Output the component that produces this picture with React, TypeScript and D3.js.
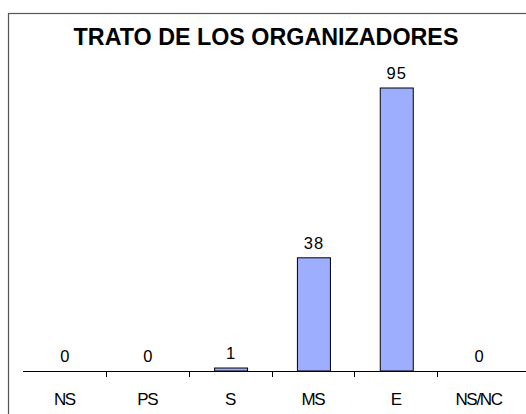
import React, { useEffect, useRef } from 'react';
import * as d3 from 'd3';

const title = 'TRATO DE LOS ORGANIZADORES';
const categories = ['NS', 'PS', 'S', 'MS', 'E', 'NS/NC'];
const values = [0, 0, 1, 38, 95, 0];

const BarChart = () => {
  const svgRef = useRef<SVGSVGElement>(null);

  const _width = 526, _height = 414;
  const axisY = 371;

  const renderChart = () => {
    const svg = d3.select(svgRef.current);

    // outer frame, runs off the right and bottom edges
    svg.append('rect')
      .attr('x', 8.5).attr('y', 13.5)
      .attr('width', 600).attr('height', 500)
      .attr('fill', 'white')
      .attr('stroke', '#555').attr('stroke-width', 1.2);

    svg.append('text')
      .attr('x', 266).attr('y', 45)
      .attr('text-anchor', 'middle')
      .attr('font-family', 'Liberation Sans, Arial, sans-serif')
      .attr('font-weight', 'bold')
      .attr('font-size', 23.3)
      .text(title);

    const x = d3.scaleBand().domain(categories).range([23, 520]).paddingInner(0).paddingOuter(0);
    const y = d3.scaleLinear().domain([0, 95]).range([axisY, 88]);

    const barW = 33;

    svg.selectAll('.bar')
      .data(values)
      .enter()
      .append('rect')
      .attr('class', 'bar')
      .attr('x', (d, i) => x(categories[i])! + x.bandwidth() / 2 - barW / 2 + 1)
      .attr('y', d => y(d))
      .attr('width', barW)
      .attr('height', d => axisY - y(d))
      .attr('fill', d => d > 0 ? '#9daeff' : 'none')
      .attr('stroke', d => d > 0 ? '#000' : 'none')
      .attr('stroke-width', 1);

    svg.selectAll('.val')
      .data(values)
      .enter()
      .append('text')
      .attr('class', 'val')
      .attr('x', (d, i) => x(categories[i])! + x.bandwidth() / 2 + 1)
      .attr('y', d => y(d) - 9)
      .attr('text-anchor', 'middle')
      .attr('font-family', 'Liberation Sans, Arial, sans-serif')
      .attr('font-size', 16.5)
      .attr('letter-spacing', 1)
      .text(d => d);

    // axis line + ticks between categories
    svg.append('line')
      .attr('x1', 23).attr('x2', 526)
      .attr('y1', axisY + 0.5).attr('y2', axisY + 0.5)
      .attr('stroke', '#000');

    svg.selectAll('.tick')
      .data(categories.slice(1))
      .enter()
      .append('line')
      .attr('x1', d => Math.round(x(d)!) + 0.5)
      .attr('x2', d => Math.round(x(d)!) + 0.5)
      .attr('y1', axisY).attr('y2', axisY + 6)
      .attr('stroke', '#000');

    svg.selectAll('.cat')
      .data(categories)
      .enter()
      .append('text')
      .attr('class', 'cat')
      .attr('x', d => x(d)! + x.bandwidth() / 2)
      .attr('y', 405)
      .attr('text-anchor', 'middle')
      .attr('font-family', 'Liberation Sans, Arial, sans-serif')
      .attr('font-size', 17)
      .attr('letter-spacing', -1.3)
      .text(d => d);
  };

  useEffect(() => {
    renderChart();
    return function cleanup() {
      d3.select(svgRef.current).selectAll('*').remove();
    };
  }, []);

  return (
    <svg ref={svgRef} width={_width} height={_height}
      style={{ position: 'absolute', left: 0, top: 0, background: 'white' }}>
    </svg>
  );
};

export default function App() {
  return <BarChart />;
}
